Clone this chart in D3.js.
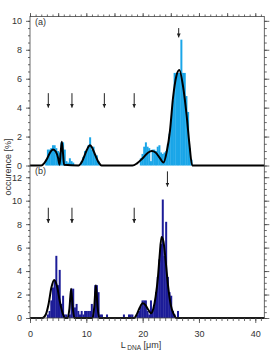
<!DOCTYPE html>
<html><head><meta charset="utf-8">
<script src="https://cdn.jsdelivr.net/npm/d3@7/dist/d3.min.js"></script>
<style>body{margin:0;background:#fff}svg{display:block}text{font-family:"Liberation Sans",Arial,sans-serif}</style>
</head><body><svg id="c" width="277" height="353"></svg>
<script>
// ---- data ----
const binWidth = 0.3;
const barsA_L = [2.7,3.0,3.3,3.6,3.9,4.2,4.5,4.8,5.1,5.4,5.7,6.0,6.3,6.6,6.9,7.2,7.5,
  9.0,9.3,9.6,9.9,10.2,10.5,10.8,11.1,11.4,11.7,12.0,
  19.5,19.8,20.1,20.4,20.7,21.0,21.3,21.6,21.9,22.2,22.5,22.8,23.1,23.4,23.7,
  24.0,24.3,24.6,24.9,25.2,25.5,25.8,26.1,26.4,26.7,27.0,27.3,27.6,27.9,28.2,28.5];
const barsA_V = [0.4,1.1,1.1,1.2,1.4,1.4,1.2,1.0,0.9,1.6,1.6,1.1,0.3,0.2,0.5,0.3,0.2,
  0.3,0.6,1.0,1.1,1.4,1.95,1.1,1.3,0.8,0.7,0.3,
  0.5,0.8,1.3,1.6,1.3,1.2,0.3,1.1,1.1,1.0,1.3,1.4,0.9,0.8,0.9,
  1.0,1.5,2.2,3.2,4.5,6.4,6.4,6.4,6.4,8.7,6.4,6.4,4.8,3.7,1.2,0.4];
const barsB_L = [3.0,3.3,3.6,3.9,4.2,4.5,4.8,5.1,5.4,5.7,6.0,6.3,6.9,7.2,7.5,7.8,8.1,8.4,8.7,
  9.0,9.3,9.6,9.9,10.2,10.5,10.8,11.1,11.4,11.7,12.0,12.3,12.6,13.5,16.5,17.4,17.7,18.0,
  18.9,19.2,19.5,19.8,20.1,20.4,20.7,21.0,21.3,21.6,21.9,22.2,22.5,22.8,23.1,23.4,23.7,
  24.0,24.3,24.6,24.9,25.2,25.5,26.1];
const barsB_V = [0.3,0.6,1.5,2.6,3.2,5.3,2.8,4.1,1.2,1.9,0.3,0.3,0.3,2.5,2.5,0.9,1.2,0.6,0.3,
  0.6,0.3,0.6,0.6,0.6,0.6,1.2,0.3,2.8,2.8,2.2,0.3,0.3,0.3,0.3,0.3,0.3,0.3,
  0.3,0.6,1.0,1.5,1.5,1.5,0.6,0.3,1.5,0.6,1.0,2.2,3.5,5.0,6.3,10.1,5.3,
  8.2,3.5,2.2,1.9,0.6,0.3,0.6];
const fitA_L = [0,2.0,2.5,3.0,3.5,4.1,4.6,5.0,5.25,5.45,5.65,5.85,6.05,8.6,9.2,9.8,10.3,10.65,11.0,11.6,12.2,12.7,
  18.2,19.0,20.0,21.0,21.6,22.3,23.0,23.7,24.3,24.85,25.4,26.0,26.5,27.2,27.8,28.3,28.8,41.6];
const fitA_V = [0,0,0.15,0.45,0.85,1.1,0.95,0.5,0.05,0.9,1.65,0.9,0.05,0,0.25,0.8,1.25,1.4,1.25,0.7,0.2,0,
  0,0.15,0.5,0.9,1.0,0.9,0.55,0.2,1.0,2.4,4.7,6.2,6.6,5.4,3.5,1.5,0,0];
const fitB_L = [0,2.2,2.8,3.3,3.8,4.3,4.8,5.3,5.8,6.2,6.7,7.0,7.3,7.6,7.9,11.1,11.4,11.7,12.0,12.3,
  18.5,19.0,19.5,20.0,20.5,21.0,21.5,21.9,22.3,22.7,23.0,23.35,23.7,24.1,24.5,25.0,25.5,26.0,41.6];
const fitB_V = [0,0,0.3,1.2,2.6,3.25,2.7,1.4,0.4,0,0,0.8,2.5,0.8,0,0,0.9,2.8,0.9,0,
  0,0.35,0.9,1.25,1.1,0.7,0.4,0.8,1.8,3.4,5.2,6.9,6.5,4.8,2.8,1.1,0.35,0,0];
const arrowsA_L = [3.25,7.45,13.2,18.5,26.4];
const arrowsA_top = [5.0,5.0,5.0,5.0,9.5];
const arrowsA_tip = [4.0,4.0,4.0,4.0,8.85];
const arrowsB_L = [3.25,7.45,18.5,24.4];
const arrowsB_top = [9.4,9.4,9.4,12.5];
const arrowsB_tip = [8.1,8.1,8.1,11.2];
const yTicksA = [0,2,4,6,8,10];
const yTicksB = [0,2,4,6,8,10,12];
const xTicks = [0,10,20,30,40];

// ---- drawing ----
const svg = d3.select("#c");
const x = d3.scaleLinear().domain([0,41.6]).range([30,264.3]);
const ya = d3.scaleLinear().domain([0,10.3]).range([165.5,16.5]);
const yb = d3.scaleLinear().domain([0,13]).range([318,165.5]);
const colA = "#1aa6e8", colB = "#1c1c98";

svg.append("defs").append("marker").attr("id","ah").attr("viewBox","0 0 6 6")
  .attr("refX",6).attr("refY",3).attr("markerWidth",4).attr("markerHeight",4)
  .attr("orient","auto").append("path").attr("d","M0,0L6,3L0,6Z").attr("fill","#222");

function panel(y, L, V, col, fL, fV, aL, aTop, aTip, yTicks, label){
  const g = svg.append("g");
  g.selectAll("rect").data(L).join("rect")
    .attr("x", d=>x(d)).attr("width", d=>x(d+binWidth)-x(d)+0.3)
    .attr("y", (d,i)=>y(V[i])).attr("height",(d,i)=>y(0)-y(V[i]))
    .attr("fill", col);
  const line = d3.line().x(d=>x(d[0])).y(d=>y(d[1])).curve(d3.curveMonotoneX);
  g.append("path").attr("d", line(fL.map((d,i)=>[d,fV[i]])))
    .attr("fill","none").attr("stroke","#000").attr("stroke-width",2).attr("stroke-linejoin","round");
  g.selectAll("line.arr").data(aL).join("line").attr("class","arr")
    .attr("x1",d=>x(d)).attr("x2",d=>x(d))
    .attr("y1",(d,i)=>y(aTop[i])).attr("y2",(d,i)=>y(aTip[i]))
    .attr("stroke","#222").attr("stroke-width",1).attr("marker-end","url(#ah)");
  // left axis
  const [y0,y1] = y.domain();
  const minor = d3.range(0, y1, 0.5);
  svg.append("g").attr("transform","translate(30,0)")
    .call(d3.axisLeft(y).tickValues(minor).tickSize(2).tickFormat(""))
    .call(a=>a.select(".domain").remove());
  svg.append("g").attr("transform","translate(30,0)")
    .call(d3.axisLeft(y).tickValues(yTicks).tickSize(4).tickPadding(4).tickFormat(d3.format("d")))
    .call(a=>a.select(".domain").remove())
    .call(a=>a.selectAll("text").attr("font-size",9).attr("fill","#333").attr("font-family","Liberation Sans, Arial"));
  svg.append("g").attr("transform","translate(264.3,0)")
    .call(d3.axisRight(y).tickValues(minor).tickSize(2.5).tickFormat(""))
    .call(a=>a.select(".domain").remove());
  svg.append("g").attr("transform","translate(264.3,0)")
    .call(d3.axisRight(y).tickValues(yTicks).tickSize(5).tickFormat(""))
    .call(a=>a.select(".domain").remove());
  svg.append("text").attr("x",35).attr("y",y(y1)+8.5).attr("font-size",9).attr("fill","#333").text(label);
}
panel(ya, barsA_L, barsA_V, colA, fitA_L, fitA_V, arrowsA_L, arrowsA_top, arrowsA_tip, yTicksA, "(a)");
panel(yb, barsB_L, barsB_V, colB, fitB_L, fitB_V, arrowsB_L, arrowsB_top, arrowsB_tip, yTicksB, "(b)");

// frame
svg.append("rect").attr("x",30).attr("y",16.5).attr("width",234.3).attr("height",301.5)
  .attr("fill","none").attr("stroke","#444").attr("stroke-width",0.8);

const xMinor = d3.range(0,42,1);
const xMid = d3.range(0,42,5);
svg.append("g").attr("transform","translate(0,318)")
  .call(d3.axisBottom(x).tickValues(xMinor).tickSize(3).tickFormat(""))
  .call(a=>a.select(".domain").remove());
svg.append("g").attr("transform","translate(0,318)")
  .call(d3.axisBottom(x).tickValues(xTicks).tickSize(5).tickPadding(8).tickFormat(d3.format("d")))
  .call(a=>a.select(".domain").remove())
  .call(a=>a.selectAll("text").attr("font-size",9).attr("fill","#333").attr("font-family","Liberation Sans, Arial"));
svg.append("g").attr("transform","translate(0,16.5)")
  .call(d3.axisTop(x).tickValues(xMinor).tickSize(2).tickFormat(""))
  .call(a=>a.select(".domain").remove());
svg.append("g").attr("transform","translate(0,16.5)")
  .call(d3.axisTop(x).tickValues(xMid).tickSize(3.5).tickFormat(""))
  .call(a=>a.select(".domain").remove());
svg.selectAll(".tick line").attr("stroke","#444").attr("stroke-width",0.8);

// titles
const xt = svg.append("text").attr("x",141).attr("y",347.5).attr("text-anchor","middle")
  .attr("font-size",9).attr("fill","#333");
xt.append("tspan").text("L");
xt.append("tspan").attr("font-size",6.5).attr("dy",2).attr("dx",1.5).text("DNA");
xt.append("tspan").attr("dy",-2).text(" [μm]");
svg.append("text").attr("transform","translate(11,167) rotate(-90)").attr("text-anchor","middle")
  .attr("font-size",9).attr("fill","#333").text("occurence [%]");
</script></body></html>
